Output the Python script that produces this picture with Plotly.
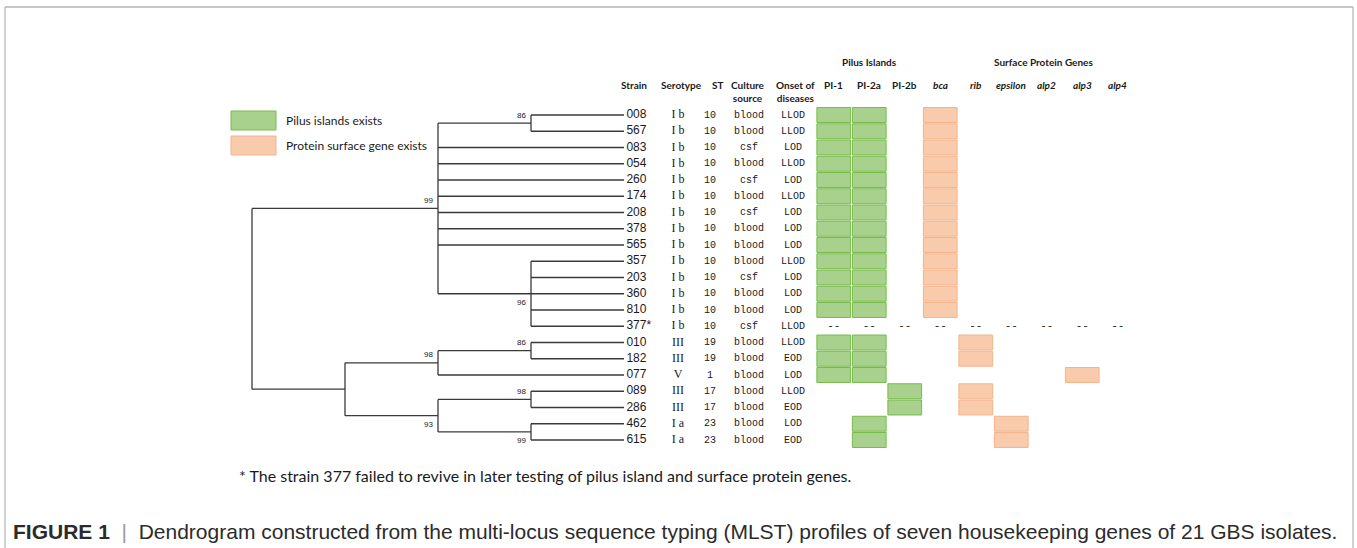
import plotly.graph_objects as go

W, H = 1357, 548

# ---------------- data ----------------
strains = ["008", "567", "083", "054", "260", "174", "208", "378", "565", "357",
           "203", "360", "810", "377*", "010", "182", "077", "089", "286", "462", "615"]
serotypes = ["I b", "I b", "I b", "I b", "I b", "I b", "I b", "I b", "I b", "I b",
             "I b", "I b", "I b", "I b", "III", "III", "V", "III", "III", "I a", "I a"]
st_types = ["10", "10", "10", "10", "10", "10", "10", "10", "10", "10",
            "10", "10", "10", "10", "19", "19", "1", "17", "17", "23", "23"]
culture_source = ["blood", "blood", "csf", "blood", "csf", "blood", "csf", "blood", "blood", "blood",
                  "csf", "blood", "blood", "csf", "blood", "blood", "blood", "blood", "blood", "blood", "blood"]
onset = ["LLOD", "LLOD", "LOD", "LLOD", "LOD", "LLOD", "LOD", "LOD", "LOD", "LLOD",
         "LOD", "LOD", "LOD", "LLOD", "LLOD", "EOD", "LOD", "LLOD", "EOD", "LOD", "EOD"]

genes = ["PI-1", "PI-2a", "PI-2b", "bca", "rib", "epsilon", "alp2", "alp3", "alp4"]
gene_group = ["pilus", "pilus", "pilus", "surface", "surface", "surface", "surface", "surface", "surface"]
# 1 = present, 0 = absent, None = not tested
presence = [
    [1, 1, 0, 1, 0, 0, 0, 0, 0],  # 008
    [1, 1, 0, 1, 0, 0, 0, 0, 0],  # 567
    [1, 1, 0, 1, 0, 0, 0, 0, 0],  # 083
    [1, 1, 0, 1, 0, 0, 0, 0, 0],  # 054
    [1, 1, 0, 1, 0, 0, 0, 0, 0],  # 260
    [1, 1, 0, 1, 0, 0, 0, 0, 0],  # 174
    [1, 1, 0, 1, 0, 0, 0, 0, 0],  # 208
    [1, 1, 0, 1, 0, 0, 0, 0, 0],  # 378
    [1, 1, 0, 1, 0, 0, 0, 0, 0],  # 565
    [1, 1, 0, 1, 0, 0, 0, 0, 0],  # 357
    [1, 1, 0, 1, 0, 0, 0, 0, 0],  # 203
    [1, 1, 0, 1, 0, 0, 0, 0, 0],  # 360
    [1, 1, 0, 1, 0, 0, 0, 0, 0],  # 810
    [None, None, None, None, None, None, None, None, None],  # 377*
    [1, 1, 0, 0, 1, 0, 0, 0, 0],  # 010
    [1, 1, 0, 0, 1, 0, 0, 0, 0],  # 182
    [1, 1, 0, 0, 0, 0, 0, 1, 0],  # 077
    [0, 0, 1, 0, 1, 0, 0, 0, 0],  # 089
    [0, 0, 1, 0, 1, 0, 0, 0, 0],  # 286
    [0, 1, 0, 0, 0, 1, 0, 0, 0],  # 462
    [0, 1, 0, 0, 0, 1, 0, 0, 0],  # 615
]

# dendrogram: node heights (distance levels) and bootstrap values
tree = {"h": 4, "children": [
    {"h": 2, "bs": 99, "children": [
        {"h": 1, "bs": 86, "children": ["008", "567"]},
        "083", "054", "260", "174", "208", "378", "565",
        {"h": 1, "bs": 96, "children": ["357", "203", "360", "810", "377*"]}]},
    {"h": 3, "children": [
        {"h": 2, "bs": 98, "children": [
            {"h": 1, "bs": 86, "children": ["010", "182"]}, "077"]},
        {"h": 2, "bs": 93, "children": [
            {"h": 1, "bs": 98, "children": ["089", "286"]},
            {"h": 1, "bs": 99, "children": ["462", "615"]}]}]}]}

footnote = "* The strain 377 failed to revive in later testing of pilus island and surface protein genes."
caption_head = "FIGURE 1"
caption_body = ("Dendrogram constructed from the multi-locus sequence typing (MLST) profiles "
                "of seven housekeeping genes of 21 GBS isolates.")
legend_items = [("Pilus islands exists", "pilus"), ("Protein surface gene exists", "surface")]

# ---------------- styles / layout constants ----------------
ROW0_PX, ROW_PX = 115.0, 16.25          # pixel of first row, row pitch
TIP_PX, LEVEL_PX = 624.0, 93.0          # tip pixel, pixel per dendrogram level
GENE0_PX, GENE_PX = 833.75, 35.5        # centre of first gene column, column pitch
col_x = {"sero": 678, "st": 710, "cult": 749, "onset": 793}
fill = {"pilus": "#a9d18e", "surface": "#f8cbad"}
edge = {"pilus": "#77bb4a", "surface": "#f4b48a"}
LINE_C = "#3a3a3a"
TEXT_C = "#1a1a1a"
NARROW = "Liberation Sans Narrow, Arial Narrow, Liberation Sans"


def py(p):  # pixel from top -> paper y
    return 1 - p / H


yr = [(H - ROW0_PX) / ROW_PX, -ROW0_PX / ROW_PX]
x2r = [TIP_PX / LEVEL_PX, (TIP_PX - W) / LEVEL_PX]
x3r = [-GENE0_PX / GENE_PX, (W - GENE0_PX) / GENE_PX]

row_of = {s: i for i, s in enumerate(strains)}
lx, ly, bs_labels = [], [], []


def place(node, first):
    if isinstance(node, str):
        return 0.0, row_of[node]
    pos = [place(c, i == 0) for i, c in enumerate(node["children"])]
    h = node["h"]
    y_top, y_bot = pos[0][1], pos[-1][1]
    yc = (y_top + y_bot) / 2
    lx.extend([h, h, None]); ly.extend([y_top, y_bot, None])
    for ch, cy in pos:
        lx.extend([h, ch, None]); ly.extend([cy, cy, None])
    if "bs" in node:
        bs_labels.append((h, yc, node["bs"], first))
    return h, yc


place(tree, True)

fig = go.Figure()

# dendrogram branches
fig.add_trace(go.Scatter(x=lx, y=ly, xaxis="x2", yaxis="y", mode="lines",
                         line=dict(color=LINE_C, width=1.3), hoverinfo="skip",
                         showlegend=False))
# strain tip labels
fig.add_trace(go.Scatter(x=[0] * len(strains), y=list(range(len(strains))), xaxis="x2", yaxis="y",
                         mode="text", text=["\u2009" + s for s in strains], textposition="middle right",
                         textfont=dict(family=NARROW, size=12, color=TEXT_C),
                         cliponaxis=False, showlegend=False, hoverinfo="skip"))

annotations = []
for h, yc, bs, first in bs_labels:
    annotations.append(dict(x=h, y=yc, xref="x2", yref="y", text=str(bs), showarrow=False,
                            xanchor="right", yanchor="middle", xshift=-3, yshift=8 if first else -9,
                            font=dict(family=NARROW, size=8, color=TEXT_C)))

rows = list(range(len(strains)))
for key, vals, fam, size in [("sero", serotypes, "Liberation Serif", 12),
                             ("st", st_types, "Liberation Mono", 10),
                             ("cult", culture_source, "Liberation Mono", 10),
                             ("onset", onset, "Liberation Mono", 10)]:
    fig.add_trace(go.Scatter(x=[col_x[key]] * len(vals), y=rows, xaxis="x", yaxis="y",
                             mode="text", text=vals, textposition="middle center",
                             textfont=dict(family=fam, size=size, color=TEXT_C),
                             cliponaxis=False, showlegend=False, hoverinfo="skip"))

# gene boxes and untested marks
shapes = []
dash_x, dash_y = [], []
for r, row in enumerate(presence):
    for c, v in enumerate(row):
        if v is None:
            dash_x.append(c); dash_y.append(r)
        elif v:
            g = gene_group[c]
            shapes.append(dict(type="rect", xref="x3", yref="y", x0=c - 0.475, x1=c + 0.475,
                               y0=r - 0.46, y1=r + 0.46, fillcolor=fill[g],
                               line=dict(color=edge[g], width=1), layer="below"))
fig.add_trace(go.Scatter(x=dash_x, y=dash_y, xaxis="x3", yaxis="y", mode="text",
                         text=["--"] * len(dash_x), textposition="middle center",
                         textfont=dict(family="Liberation Mono", size=11, color=TEXT_C),
                         cliponaxis=False, showlegend=False, hoverinfo="skip"))

# headers
HF = "Lato, Open Sans, sans-serif"
hdr = [("Strain", 634), ("Serotype", 681), ("ST", 718),
       ("Culture<br>source", 748), ("Onset of<br>diseases", 795)]
for txt, xp in hdr:
    annotations.append(dict(x=xp, y=py(77), xref="x", yref="paper", text="<b>" + txt + "</b>",
                            showarrow=False, xanchor="center", yanchor="top",
                            font=dict(family=HF, size=10, color=TEXT_C)))
for c, g in enumerate(genes):
    txt = "<b>" + g + "</b>" if gene_group[c] == "pilus" else "<b><i>" + g + "</i></b>"
    annotations.append(dict(x=c, y=py(77), xref="x3", yref="paper", text=txt, showarrow=False,
                            xanchor="center", yanchor="top",
                            font=dict(family=HF, size=10, color=TEXT_C)))
annotations.append(dict(x=1, y=py(62), xref="x3", yref="paper", text="<b>Pilus Islands</b>",
                        showarrow=False, xanchor="center", yanchor="middle",
                        font=dict(family=HF, size=10, color=TEXT_C)))
annotations.append(dict(x=5.9, y=py(62), xref="x3", yref="paper", text="<b>Surface Protein Genes</b>",
                        showarrow=False, xanchor="center", yanchor="middle",
                        font=dict(family=HF, size=10, color=TEXT_C)))

# legend
for i, (lab, g) in enumerate(legend_items):
    top = 111 + i * 25
    shapes.append(dict(type="rect", xref="x", yref="paper", x0=231, x1=276,
                       y0=py(top + 19), y1=py(top), fillcolor=fill[g],
                       line=dict(color=edge[g], width=1)))
    annotations.append(dict(x=284, y=py(top + 9.5), xref="x", yref="paper", text=lab,
                            showarrow=False, xanchor="left", yanchor="middle",
                            font=dict(family="Lato, Open Sans", size=12, color=TEXT_C)))

# footnote and caption
annotations.append(dict(x=237, y=py(475), xref="x", yref="paper", text=footnote, showarrow=False,
                        xanchor="left", yanchor="middle",
                        font=dict(family="Lato, Open Sans", size=16, color=TEXT_C)))
annotations.append(dict(x=11, y=py(531), xref="x", yref="paper",
                        text="<b>" + caption_head + "</b>\u00a0\u00a0<span style='color:#999'>|</span>\u00a0\u00a0"
                             + caption_body,
                        showarrow=False, xanchor="left", yanchor="middle",
                        font=dict(family="Liberation Sans, Arial", size=21, color="#2b2b2b")))

# frame
FRAME_C = "#b4b4b4"
shapes.append(dict(type="line", xref="x", yref="paper", x0=5, x1=1353, y0=py(7), y1=py(7),
                   line=dict(color=FRAME_C, width=1.5)))
shapes.append(dict(type="line", xref="x", yref="paper", x0=5, x1=5, y0=py(7), y1=py(560),
                   line=dict(color=FRAME_C, width=1.2)))
shapes.append(dict(type="line", xref="x", yref="paper", x0=1353, x1=1353, y0=py(7), y1=py(560),
                   line=dict(color=FRAME_C, width=1.2)))

hidden = dict(visible=False, showgrid=False, zeroline=False, fixedrange=True)
fig.update_layout(
    width=W, height=H, margin=dict(l=0, r=0, t=0, b=0),
    paper_bgcolor="white", plot_bgcolor="rgba(0,0,0,0)", showlegend=False,
    xaxis=dict(range=[0, W], domain=[0, 1], anchor="y", **hidden),
    xaxis2=dict(range=x2r, domain=[0, 1], anchor="y", overlaying="x", **hidden),
    xaxis3=dict(range=x3r, domain=[0, 1], anchor="y", overlaying="x", **hidden),
    yaxis=dict(range=yr, domain=[0, 1], anchor="x", **hidden),
    shapes=shapes, annotations=annotations,
)

fig.write_html("out.html", config={"displayModeBar": False, "staticPlot": True},
               post_script="document.body.style.margin='0';document.body.style.overflow='hidden';")
